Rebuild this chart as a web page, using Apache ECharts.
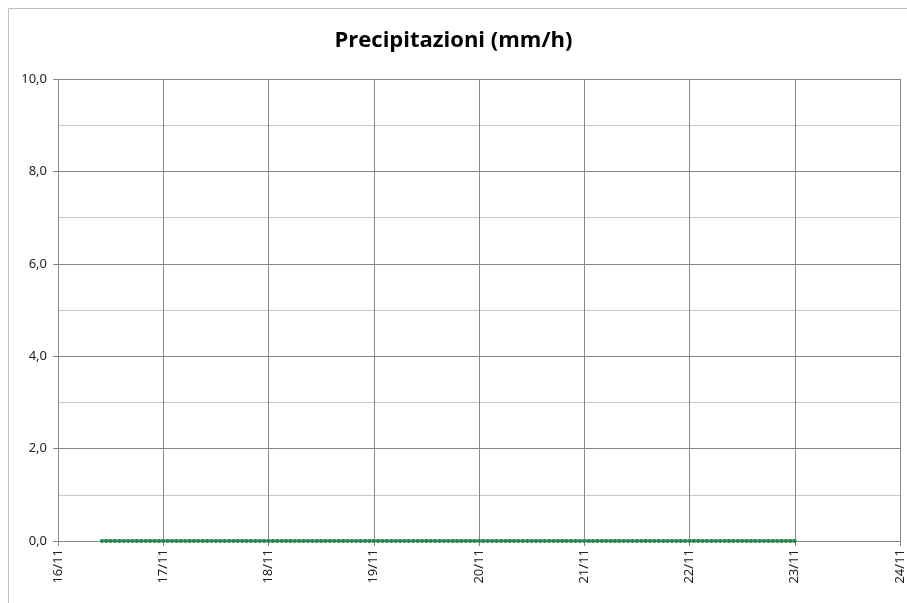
<!DOCTYPE html>
<html>
<head>
<meta charset="utf-8">
<title>Precipitazioni</title>
<script src="https://cdn.jsdelivr.net/npm/echarts@6/dist/echarts.min.js"></script>
<style>
	html, body { margin: 0; padding: 0; background: #fff; }
	#chart { width: 907px; height: 603px; }
</style>
</head>
<body>
<div id="chart"></div>
<script>
// hourly readings, first one at 16/11 10:00, last at 23/11 00:00
var HOUR = 3600 * 1000;
var DAY = 24 * HOUR;
var startTime = Date.UTC(2013, 10, 16, 10);
var rainValues = [
	0, 0, 0, 0, 0, 0, 0, 0, 0, 0, 0, 0, 0, 0,
	0, 0, 0, 0, 0, 0, 0, 0, 0, 0, 0, 0, 0, 0, 0, 0, 0, 0, 0, 0, 0, 0, 0, 0,
	0, 0, 0, 0, 0, 0, 0, 0, 0, 0, 0, 0, 0, 0, 0, 0, 0, 0, 0, 0, 0, 0, 0, 0,
	0, 0, 0, 0, 0, 0, 0, 0, 0, 0, 0, 0, 0, 0, 0, 0, 0, 0, 0, 0, 0, 0, 0, 0,
	0, 0, 0, 0, 0, 0, 0, 0, 0, 0, 0, 0, 0, 0, 0, 0, 0, 0, 0, 0, 0, 0, 0, 0,
	0, 0, 0, 0, 0, 0, 0, 0, 0, 0, 0, 0, 0, 0, 0, 0, 0, 0, 0, 0, 0, 0, 0, 0,
	0, 0, 0, 0, 0, 0, 0, 0, 0, 0, 0, 0, 0, 0, 0, 0, 0, 0, 0, 0, 0, 0, 0, 0,
	0
];
var axisStart = Date.UTC(2013, 10, 16);
var axisEnd = Date.UTC(2013, 10, 24);
var yMin = 0;
var yMax = 10;

var seriesData = [];
for (var i = 0; i < rainValues.length; i++) {
	seriesData.push([startTime + i * HOUR, rainValues[i]]);
}

function pad(n) {
	return (n < 10 ? '0' : '') + n;
}

var myChart = echarts.init(document.getElementById('chart'));

var option = {
	animation: false,
	backgroundColor: '#fff',
	title: {
		text: 'Precipitazioni (mm/h)',
		left: 'center',
		top: 25,
		textStyle: {
			fontFamily: 'Open Sans',
			fontWeight: 'bold',
			fontSize: 22,
			color: '#000'
		}
	},
	graphic: [{
		type: 'rect',
		shape: { x: 8.5, y: 8.5, width: 910, height: 610 },
		style: { fill: 'none', stroke: '#bfbfbf', lineWidth: 1 },
		silent: true
	}],
	grid: {
		left: 58,
		right: 7,
		top: 79,
		bottom: 62
	},
	xAxis: {
		type: 'value',
		min: axisStart,
		max: axisEnd,
		interval: DAY,
		axisLine: { show: true, lineStyle: { color: '#888', width: 1 } },
		axisTick: { show: true, length: 5, lineStyle: { color: '#888' } },
		splitLine: { show: true, lineStyle: { color: '#888', width: 1 } },
		axisLabel: {
			rotate: 90,
			margin: 8,
			fontFamily: 'Noto Sans',
			fontSize: 13,
			color: '#222',
			showMaxLabel: true,
			formatter: function(v) {
				var d = new Date(v);
				return pad(d.getUTCDate()) + '/' + pad(d.getUTCMonth() + 1);
			}
		}
	},
	yAxis: {
		type: 'value',
		min: yMin,
		max: yMax,
		interval: 2,
		axisLine: { show: true, lineStyle: { color: '#888', width: 1 } },
		axisTick: { show: true, length: 5, lineStyle: { color: '#888' } },
		splitLine: { show: true, lineStyle: { color: '#888', width: 1 } },
		minorTick: { show: false, splitNumber: 2 },
		minorSplitLine: { show: true, lineStyle: { color: '#c8c8c8', width: 1 } },
		axisLabel: {
			margin: 11,
			fontFamily: 'Noto Sans',
			fontSize: 13,
			color: '#222',
			formatter: function(v) {
				return v.toFixed(1).replace('.', ',');
			}
		}
	},
	series: [{
		name: 'Precipitazioni',
		type: 'line',
		data: seriesData,
		symbol: 'circle',
		symbolSize: 4,
		showAllSymbol: true,
		lineStyle: { color: '#4a7ebb', width: 3 },
		itemStyle: { color: '#1f8a3a', borderWidth: 0 }
	}]
};

myChart.setOption(option);
</script>
</body>
</html>
